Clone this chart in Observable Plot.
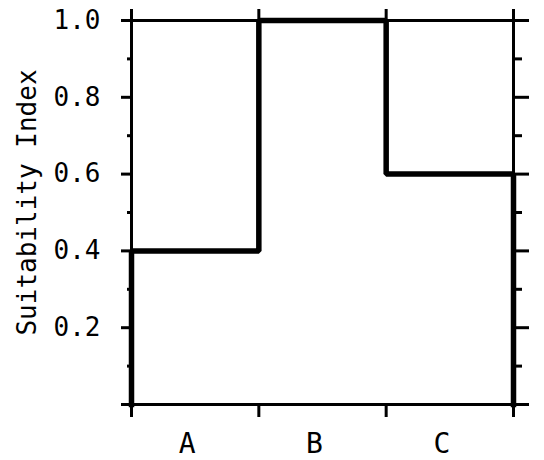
<!DOCTYPE html>
<html>
<head>
<meta charset="utf-8">
<script src="https://cdn.jsdelivr.net/npm/d3@7"></script>
<script src="https://cdn.jsdelivr.net/npm/@observablehq/plot@0.6"></script>
<style>
  html, body { margin: 0; padding: 0; background: #fff; }
  #chart { width: 544px; height: 460px; }
</style>
</head>
<body>
<div id="chart"></div>
<script>
// Suitability index per habitat class
const categories = ["A", "B", "C"];
const suitability = [0.4, 1.0, 0.6];

// Y-axis ticks and labels
const majorTicks = [0, 0.2, 0.4, 0.6, 0.8, 1.0];
const minorTicks = [0.1, 0.3, 0.5, 0.7, 0.9];
const majorLabels = ["", "0.2", "0.4", "0.6", "0.8", "1.0"];
const yTitle = "Suitability Index";

// Class boundaries along x (0..n) and class centres
const boundaries = d3.range(categories.length + 1);
const centres = categories.map((c, i) => i + 0.5);

// Step outline: rise from the baseline, one level per class, drop back at the end
const steps = [
  {x: 0, y: 0},
  ...suitability.map((v, i) => ({x: i, y: v})),
  {x: categories.length, y: suitability[suitability.length - 1]},
  {x: categories.length, y: 0}
];

const font = "DejaVu Sans Mono";
const noLabel = () => "";

const chart = Plot.plot({
  width: 544,
  height: 460,
  marginLeft: 131,
  marginRight: 31,
  marginTop: 20,
  marginBottom: 56,
  style: {fontFamily: font, fontSize: "26px", color: "#000", background: "#fff", overflow: "visible"},
  x: {domain: [0, categories.length], axis: null},
  y: {domain: [0, 1], axis: null},
  marks: [
    Plot.frame({stroke: "#000", strokeWidth: 3}),
    // left axis: labelled major ticks and short minor ticks
    Plot.axisY({
      anchor: "left", ticks: majorTicks, tickSize: 10, tickPadding: 21,
      tickFormat: (d, i) => majorLabels[i], strokeWidth: 3,
      fontSize: 26, fontFamily: font, label: null
    }),
    Plot.axisY({anchor: "left", ticks: minorTicks, tickSize: 4, tickFormat: noLabel, strokeWidth: 3, label: null}),
    // right axis: unlabelled ticks
    Plot.axisY({anchor: "right", ticks: majorTicks, tickSize: 15, tickFormat: noLabel, strokeWidth: 3, label: null}),
    Plot.axisY({anchor: "right", ticks: minorTicks, tickSize: 8, tickFormat: noLabel, strokeWidth: 3, label: null}),
    // class boundary ticks above and below
    Plot.axisX({anchor: "bottom", ticks: boundaries, tickSize: 13, tickFormat: noLabel, strokeWidth: 3, label: null}),
    Plot.axisX({anchor: "top", ticks: boundaries, tickSize: 12, tickFormat: noLabel, strokeWidth: 3, label: null}),
    // class names
    Plot.axisX({
      anchor: "bottom", ticks: centres, tickSize: 0, tickPadding: 29,
      tickFormat: (d, i) => categories[i], fontSize: 28, fontFamily: font,
      dx: -8, label: null
    }),
    // step outline of the index
    Plot.line(steps, {
      x: "x", y: "y", curve: "step-after",
      stroke: "#000", strokeWidth: 5.5, strokeLinejoin: "miter", strokeLinecap: "square"
    }),
    // y-axis title
    Plot.text([yTitle], {
      frameAnchor: "left", text: d => d, rotate: -90,
      textAnchor: "middle", lineAnchor: "bottom",
      dx: -96, dy: -10, fontSize: 26, fontFamily: font, fill: "#000"
    })
  ]
});

document.getElementById("chart").append(chart);
</script>
</body>
</html>
